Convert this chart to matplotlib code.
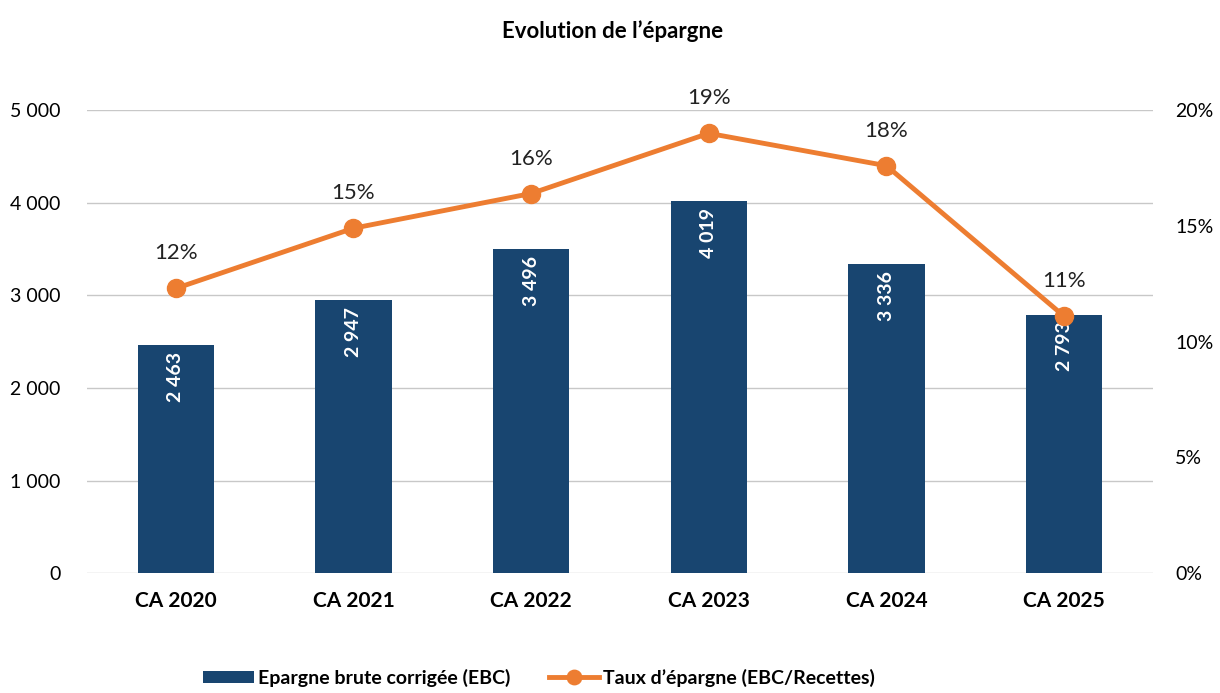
import matplotlib.pyplot as plt
from matplotlib.ticker import FuncFormatter

# Data
categories = ['CA 2020', 'CA 2021', 'CA 2022', 'CA 2023', 'CA 2024', 'CA 2025']
ebc = [2463, 2947, 3496, 4019, 3336, 2793]
taux = [12.3, 14.9, 16.4, 19.0, 17.6, 11.1]

plt.rcParams['font.family'] = ['Lato', 'DejaVu Sans']

bar_color = '#184570'
line_color = '#ed7d31'

fig = plt.figure(figsize=(12.2, 6.93), dpi=100)
ax1 = fig.add_axes([0.0713, 0.173, 0.8737, 0.668])
x = list(range(len(categories)))

ax1.bar(x, ebc, width=0.43, color=bar_color, zorder=2, label='Epargne brute corrigée (EBC)')
for xi, v in zip(x, ebc):
    ax1.annotate(f'{v:,}'.replace(',', ' '), (xi, v), xytext=(0, -5), textcoords='offset points',
                 rotation=90, ha='center', va='top', color='white', fontsize=14, fontweight='bold')

ax1.set_xlim(-0.5, 5.5)
ax1.set_ylim(0, 5000)
ax1.set_yticks(range(0, 5001, 1000))
ax1.yaxis.set_major_formatter(FuncFormatter(lambda v, p: f'{int(v):,}'.replace(',', ' ')))
ax1.grid(axis='y', color='#c8c8c8', linewidth=1, zorder=0)
ax1.set_axisbelow(True)
ax1.set_xticks(x)
ax1.set_xticklabels(categories, fontsize=15, fontweight='bold')
ax1.tick_params(axis='x', length=0, pad=13)
ax1.tick_params(axis='y', length=0, pad=19, labelsize=14)
for s in ax1.spines.values():
    s.set_visible(False)

ax2 = ax1.twinx()
ax2.plot(x, taux, color=line_color, linewidth=3.5, marker='o', markersize=13, zorder=3,
         label='Taux d’épargne (EBC/Recettes)')
for xi, v in zip(x, taux):
    ax2.annotate(f'{v:.0f}%', (xi, v), xytext=(0, 18), textcoords='offset points',
                 ha='center', va='bottom', fontsize=16, color='#222222', annotation_clip=False)
ax2.set_ylim(0, 20)
ax2.set_yticks([0, 5, 10, 15, 20])
ax2.yaxis.set_major_formatter(FuncFormatter(lambda v, p: f'{int(v)}%'))
ax2.tick_params(axis='y', length=0, pad=16, labelsize=14)
for s in ax2.spines.values():
    s.set_visible(False)

fig.text(0.502, 0.955, 'Evolution de l’épargne', ha='center', va='center', fontsize=16, fontweight='bold')

h1, l1 = ax1.get_legend_handles_labels()
h2, l2 = ax2.get_legend_handles_labels()
fig.legend(h1 + h2, l1 + l2, loc='center', bbox_to_anchor=(0.442, 0.022), ncol=2, frameon=False,
           prop={'size': 14, 'weight': 'bold'}, handlelength=2.6, handleheight=0.6,
           handletextpad=0.2, columnspacing=2.0, markerscale=0.8)

fig.savefig('out.png', dpi=100)
